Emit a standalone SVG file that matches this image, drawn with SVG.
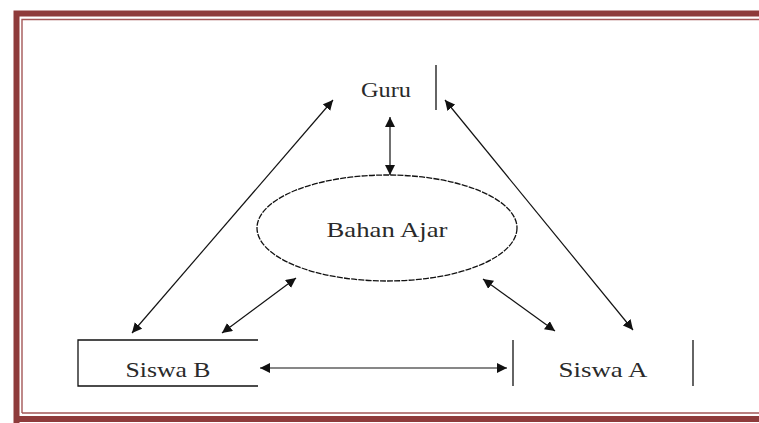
<svg xmlns="http://www.w3.org/2000/svg" width="759" height="423" viewBox="0 0 759 423">
<defs>
<marker id="ah" viewBox="0 0 10 10" refX="10" refY="5" markerWidth="10" markerHeight="10" markerUnits="userSpaceOnUse" orient="auto-start-reverse">
<path d="M0,0 L10,5 L0,10 z" fill="#111"/>
</marker>
<style>
.lbl{font-family:"Liberation Serif","Times New Roman",serif;font-size:21px;fill:#2a2a2a;text-anchor:middle}
.ln{stroke:#111;stroke-width:1.3;fill:none}
.cn{stroke:#111;stroke-width:1.2;fill:none;marker-start:url(#ah);marker-end:url(#ah)}
</style>
</defs>
<rect width="759" height="423" fill="#fff"/>
<g id="frame">
<path d="M16.5,800 L16.5,13.5 L800,13.5 M16.5,419 L800,419 M16.5,13.5 L16.5,419" fill="none" stroke="#8e3b3b" stroke-width="6"/>
<path d="M22,413 L22,19.5 L800,19.5 M22,413 L800,413" fill="none" stroke="#a35757" stroke-width="1.4"/>
</g>
<g id="guru">
<text class="lbl" x="386" y="97" textLength="50" lengthAdjust="spacingAndGlyphs">Guru</text>
<line class="ln" x1="436" y1="65" x2="436" y2="110"/>
</g>
<g id="bahan-ajar">
<ellipse cx="387" cy="228" rx="130" ry="53" fill="none" stroke="#111" stroke-width="1.3" stroke-dasharray="6 1.2"/>
<text class="lbl" x="387" y="237" textLength="121" lengthAdjust="spacingAndGlyphs">Bahan Ajar</text>
</g>
<g id="siswa-b">
<path class="ln" d="M258,340 L78,340 L78,386 L258,386"/>
<text class="lbl" x="168" y="377" textLength="85" lengthAdjust="spacingAndGlyphs">Siswa B</text>
</g>
<g id="siswa-a">
<line class="ln" x1="513" y1="340" x2="513" y2="386"/>
<line class="ln" x1="693" y1="340" x2="693" y2="386"/>
<text class="lbl" x="603" y="377" textLength="89" lengthAdjust="spacingAndGlyphs">Siswa A</text>
</g>
<g id="connectors">
<line class="cn" x1="390" y1="117" x2="390" y2="175"/>
<line class="cn" x1="132" y1="333" x2="333" y2="100"/>
<line class="cn" x1="633" y1="330" x2="445" y2="100"/>
<line class="cn" x1="222" y1="333" x2="296" y2="278"/>
<line class="cn" x1="555" y1="331" x2="483" y2="279"/>
<line class="cn" x1="260" y1="368" x2="507" y2="368"/>
</g>
</svg>
